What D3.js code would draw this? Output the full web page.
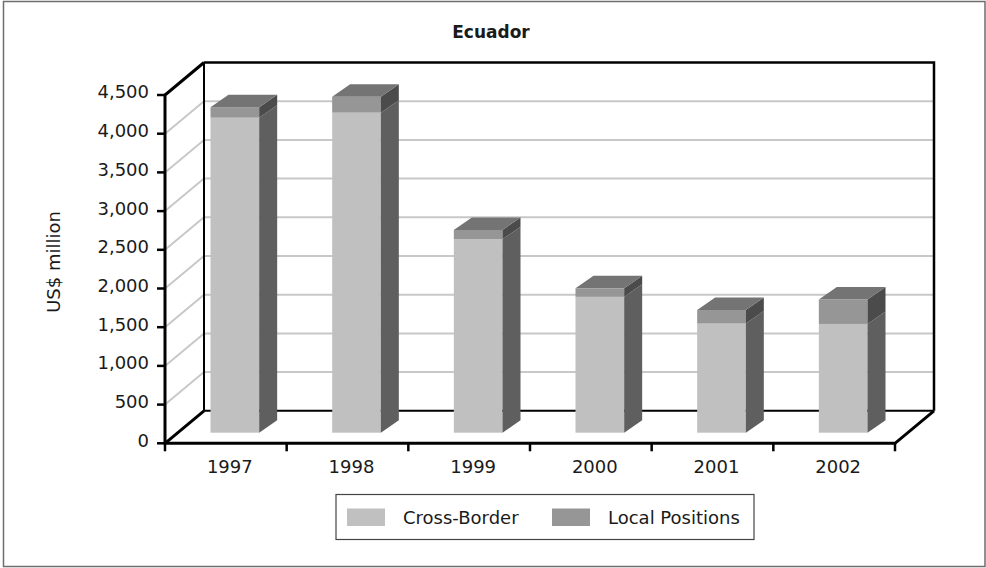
<!DOCTYPE html>
<html>
<head>
<meta charset="utf-8">
<script src="https://cdn.jsdelivr.net/npm/d3@7"></script>
<style>
  html, body { margin: 0; padding: 0; background: #fff; }
  svg { display: block; font-family: "DejaVu Sans", sans-serif; }
</style>
</head>
<body>
<svg id="chart" width="986" height="568"></svg>
<script>
// Bank claims on Ecuador, US$ million
const years = ["1997", "1998", "1999", "2000", "2001", "2002"];
const crossBorder = [4070, 4135, 2500, 1755, 1410, 1405];
const localPositions = [135, 205, 120, 110, 175, 315];
const seriesNames = ["Cross-Border", "Local Positions"];
const yTicks = [0, 500, 1000, 1500, 2000, 2500, 3000, 3500, 4000, 4500];

const svg = d3.select("#chart");

// frame
svg.append("rect")
  .attr("x", 3.5).attr("y", 1.5).attr("width", 981.5).attr("height", 565)
  .attr("fill", "#fff").attr("stroke", "#6e6e6e").attr("stroke-width", 1.5);

// plot geometry (front plane of the 3D box)
const x = d3.scaleBand().domain(years).range([165, 895]);
const y = d3.scaleLinear().domain([0, 4500]).range([443.3, 95]);
const depth = { dx: 39, dy: -32.5 };       // wall depth
const barDepth = { dx: 18, dy: -12.5 };    // bar depth
const barPlane = { dx: 9, dy: -10.6 };     // bar front face offset
const barW = x.bandwidth() * 0.4;

const colors = {
  front: ["#c0c0c0", "#969696"],
  side: ["#5f5f5f", "#4b4b4b"],
  top: "#747474",
  grid: "#c8c8c8",
  text: "#1a1a1a"
};

const x0 = x.range()[0], x1 = x.range()[1];
const bx0 = x0 + depth.dx, bx1 = x1 + depth.dx;

// gridlines: side wall diagonals and back wall horizontals
const inner = yTicks.filter(v => v > 0 && v < 4500);
const grid = svg.append("g").attr("stroke", colors.grid).attr("stroke-width", 2).attr("fill", "none");
inner.forEach(v => {
  grid.append("path")
    .attr("d", `M${x0},${y(v)}L${bx0},${y(v) + depth.dy}L${bx1},${y(v) + depth.dy}`);
});

// back wall and floor outline
const axis = svg.append("g").attr("stroke", "#000").attr("fill", "none").attr("stroke-linejoin", "miter");
axis.append("path")
  .attr("stroke-width", 2)
  .attr("d", `M${bx0},${y(0) + depth.dy}L${bx1},${y(0) + depth.dy}`);
axis.append("path")
  .attr("stroke-width", 2)
  .attr("d", `M${bx0},${y(0) + depth.dy}L${bx0},${y(4500) + depth.dy}`);
axis.append("path")
  .attr("stroke-width", 2.5)
  .attr("d", `M${bx0},${y(4500) + depth.dy}L${bx1},${y(4500) + depth.dy}L${bx1},${y(0) + depth.dy}`);

// bars
const stacks = years.map((yr, i) => {
  const segs = [];
  let base = 0;
  [crossBorder[i], localPositions[i]].forEach((v, k) => {
    segs.push({ yr, k, y0: base, y1: base + v });
    base += v;
  });
  return { yr, segs, total: base };
});

const bars = svg.append("g");
stacks.forEach(s => {
  const left = x(s.yr) + (x.bandwidth() - barW) / 2 + barPlane.dx;
  const right = left + barW;
  const py = v => y(v) + barPlane.dy;
  const g = bars.append("g");
  s.segs.forEach(seg => {
    // front face
    g.append("rect")
      .attr("x", left).attr("y", py(seg.y1))
      .attr("width", barW).attr("height", py(seg.y0) - py(seg.y1))
      .attr("fill", colors.front[seg.k]);
    // side face
    g.append("path")
      .attr("fill", colors.side[seg.k])
      .attr("d", `M${right},${py(seg.y0)}L${right + barDepth.dx},${py(seg.y0) + barDepth.dy}` +
                 `L${right + barDepth.dx},${py(seg.y1) + barDepth.dy}L${right},${py(seg.y1)}Z`);
  });
  // top face
  const t = py(s.total);
  g.append("path")
    .attr("fill", colors.top)
    .attr("d", `M${left},${t}L${right},${t}L${right + barDepth.dx},${t + barDepth.dy}` +
               `L${left + barDepth.dx},${t + barDepth.dy}Z`);
});

// front axes and floor edges
axis.append("path")
  .attr("stroke-width", 3)
  .attr("d", `M${bx0},${y(4500) + depth.dy}L${x0},${y(4500)}L${x0},${y(0)}L${x1},${y(0)}` +
             `L${bx1},${y(0) + depth.dy}`);
axis.append("path")
  .attr("stroke-width", 3)
  .attr("d", `M${x0},${y(0)}L${bx0},${y(0) + depth.dy}`);

// value axis ticks and labels
const yAxis = svg.append("g");
yTicks.forEach(v => {
  yAxis.append("line")
    .attr("x1", x0 - 8).attr("x2", x0).attr("y1", y(v)).attr("y2", y(v))
    .attr("stroke", "#000").attr("stroke-width", 2.5);
  yAxis.append("text")
    .attr("x", x0 - 16).attr("y", y(v) - 3).attr("dy", "0.36em")
    .attr("text-anchor", "end").attr("font-size", 18).attr("fill", colors.text)
    .text(d3.format(",")(v));
});

// category ticks and labels
const xAxis = svg.append("g");
[...years.map(d => x(d)), x1].forEach(px => {
  xAxis.append("line")
    .attr("x1", px).attr("x2", px).attr("y1", y(0)).attr("y2", y(0) + 8)
    .attr("stroke", "#000").attr("stroke-width", 2.5);
});
years.forEach(d => {
  xAxis.append("text")
    .attr("x", x(d) + x.bandwidth() / 2 + 4).attr("y", 473)
    .attr("text-anchor", "middle").attr("font-size", 18).attr("fill", colors.text)
    .text(d);
});

// axis title
svg.append("text")
  .attr("transform", "translate(60,262) rotate(-90)")
  .attr("text-anchor", "middle").attr("font-size", 18).attr("fill", colors.text)
  .text("US$ million");

// chart title
svg.append("text")
  .attr("x", 491).attr("y", 38)
  .attr("text-anchor", "middle").attr("font-size", 17).attr("font-weight", "bold").attr("fill", colors.text)
  .text("Ecuador");

// legend
const legend = svg.append("g");
legend.append("rect")
  .attr("x", 336).attr("y", 494.5).attr("width", 418).attr("height", 45)
  .attr("fill", "#fff").attr("stroke", "#444").attr("stroke-width", 1.2);
const legendX = [347, 552];
seriesNames.forEach((name, k) => {
  legend.append("rect")
    .attr("x", legendX[k]).attr("y", 508.5).attr("width", 38).attr("height", 17.5)
    .attr("fill", colors.front[k]);
  legend.append("text")
    .attr("x", legendX[k] + 56).attr("y", 523.5)
    .attr("font-size", 18).attr("fill", colors.text)
    .text(name);
});
</script>
</body>
</html>
